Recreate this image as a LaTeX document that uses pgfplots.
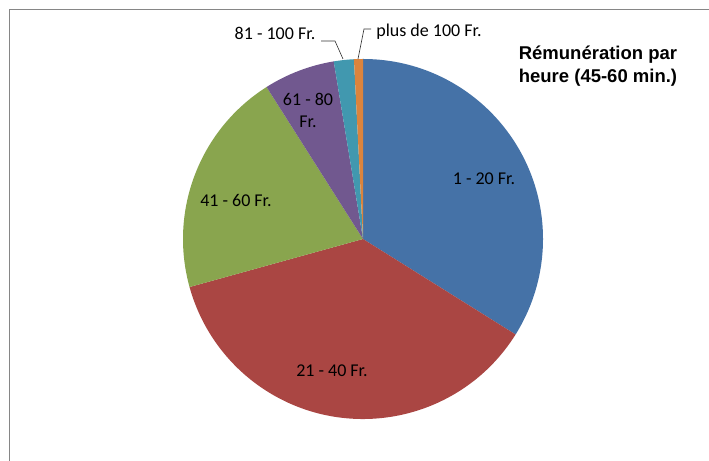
\documentclass[border=0pt]{standalone}
\usepackage{pgfplots}
\usepackage{pgfplotstable}
\pgfplotsset{compat=1.18}
\usepackage{fontspec}
\setmainfont{Carlito}
\newfontfamily\titlefont{Liberation Sans}
\definecolor{c0}{HTML}{4572A7}
\definecolor{c1}{HTML}{AA4643}
\definecolor{c2}{HTML}{89A54E}
\definecolor{c3}{HTML}{71588F}
\definecolor{c4}{HTML}{4198AF}
\definecolor{c5}{HTML}{DB843D}
\definecolor{frame}{HTML}{868686}
\pgfplotstableread[col sep=comma]{
label,value
1 - 20 Fr.,33.9
21 - 40 Fr.,36.8
41 - 60 Fr.,20.3
61 - 80 Fr.,6.4
81 - 100 Fr.,1.8
plus de 100 Fr.,0.8
}\piedata
\begin{document}
\begin{tikzpicture}
\pgfplotstablegetrowsof{\piedata}
\pgfmathtruncatemacro\nrows{\pgfplotsretval-1}
\xdef\cumangle{90}
\foreach \i in {0,...,\nrows}{
  \pgfplotstablegetelem{\i}{value}\of\piedata
  \pgfmathsetmacro\endang{\cumangle-3.6*\pgfplotsretval}
  \expandafter\xdef\csname sA\i\endcsname{\cumangle}
  \expandafter\xdef\csname sE\i\endcsname{\endang}
  \xdef\cumangle{\endang}
}
\begin{axis}[
  x=1bp, y=1bp, xmin=0, xmax=709, ymin=0, ymax=461,
  scale only axis, hide axis, clip=false,
]
\pgfplotsinvokeforeach{0,...,5}{
  \edef\temp{\noexpand\fill[c#1] (axis cs:363,222) -- ++(\csname sA#1\endcsname:180bp)
    arc[start angle=\csname sA#1\endcsname, end angle=\csname sE#1\endcsname, radius=180bp] -- cycle;}
  \temp
}
% frame
\draw[frame, line width=1.5bp] (axis cs:9.5,0) -- (axis cs:9.5,451.5) -- (axis cs:709,451.5);
% leader lines
\draw[black!80, line width=0.6bp] (axis cs:321,420) -- (axis cs:335,420) -- (axis cs:343,402);
\draw[black!80, line width=0.6bp] (axis cs:371,432) -- (axis cs:364,432) -- (axis cs:358,402);
% labels
\begin{scope}[every node/.style={font=\fontsize{18bp}{22bp}\selectfont, inner sep=0pt}]
\node at (axis cs:484,282) {1 - 20 Fr.};
\node at (axis cs:332,90) {21 - 40 Fr.};
\node at (axis cs:236,260) {41 - 60 Fr.};
\node[align=center] at (axis cs:308,351) {61 - 80\\Fr.};
\node at (axis cs:275,428) {81 - 100 Fr.};
\node at (axis cs:429,429) {plus de 100 Fr.};
\end{scope}
\node[font=\titlefont\bfseries\fontsize{18.5bp}{23bp}\selectfont, align=center, inner sep=0pt]
  at (axis cs:598,394.5) {Rémunération par\\heure (45-60 min.)};
\end{axis}
\pgfresetboundingbox
\useasboundingbox (current axis.south west) rectangle (current axis.north east);
\end{tikzpicture}
\end{document}
